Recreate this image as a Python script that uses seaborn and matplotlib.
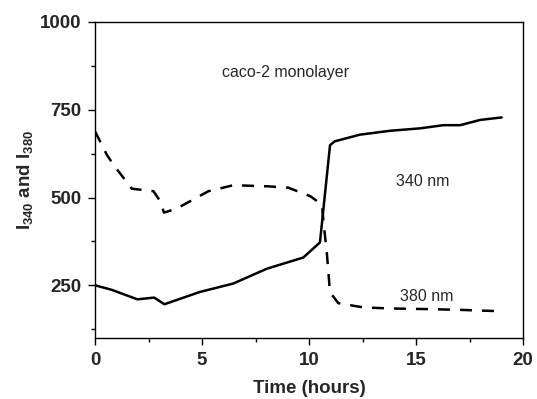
import numpy as np
import pandas as pd
import matplotlib
matplotlib.use("Agg")
import matplotlib.pyplot as plt
import seaborn as sns

# 340 nm (solid)
t340 = [0.0, 0.78, 1.98, 2.76, 3.24, 4.9, 6.46, 8.02, 9.73, 10.51, 10.98, 11.2, 12.38, 13.78, 15.19, 16.28, 17.06, 18.0, 19.0]
i340 = [250, 237, 210, 215, 196, 231, 255, 297, 329, 372, 649, 660, 679, 690, 697, 706, 706, 721, 728]

# 380 nm (dashed)
t380 = [0.0, 0.55, 0.85, 1.72, 2.73, 3.04, 3.22, 3.8, 5.3, 6.46, 8.02, 9.03, 10.05, 10.6, 10.68, 10.83, 10.98, 11.37, 12.54, 13.78, 15.65, 17.06, 19.0]
i380 = [688, 622, 594, 525, 518, 490, 457, 468, 518, 535, 532, 528, 504, 480, 428, 343, 230, 199, 187, 184, 182, 180, 176]

sns.set_style("ticks")
plt.rcParams["font.family"] = ["Liberation Sans", "DejaVu Sans"]
plt.rcParams["mathtext.fontset"] = "custom"
plt.rcParams["mathtext.rm"] = "Liberation Sans:bold"
plt.rcParams["mathtext.bf"] = "Liberation Sans:bold"
plt.rcParams["mathtext.default"] = "rm"

fig = plt.figure(figsize=(5.37, 3.99), dpi=100)
ax = fig.add_axes([0.177, 0.153, 0.797, 0.792])

df340 = pd.DataFrame({"t": t340, "v": i340})
df380 = pd.DataFrame({"t": t380, "v": i380})
sns.lineplot(data=df340, x="t", y="v", ax=ax, color="black", lw=1.8)
sns.lineplot(data=df380, x="t", y="v", ax=ax, color="black", lw=1.8, dashes=False)
ax.lines[-1].set_dashes((4.8, 4.0))

ax.set_xlim(0, 20)
ax.set_ylim(100, 1000)
ax.set_xticks([0, 5, 10, 15, 20])
ax.set_xticks([2.5, 7.5, 12.5, 17.5], minor=True)
ax.set_yticks([250, 500, 750, 1000])
ax.set_yticks([125, 375, 625, 875], minor=True)
for lab in ax.get_xticklabels() + ax.get_yticklabels():
    lab.set_fontweight("bold")
    lab.set_fontsize(13.5)
ax.tick_params(which="major", length=5, width=1, color="black", direction="out", pad=5)
ax.tick_params(which="minor", length=3, width=1, color="black", direction="out")
for s in ax.spines.values():
    s.set_linewidth(1.0)
    s.set_color("black")

ax.set_xlabel("Time (hours)", fontsize=13.5, fontweight="bold", labelpad=8)
ax.set_ylabel(r"I$_{340}$ and I$_{380}$", fontsize=13.5, fontweight="bold", labelpad=3)

ax.text(8.9, 857, "caco-2 monolayer", fontsize=11.5, ha="center", va="center")
ax.text(15.3, 546, "340 nm", fontsize=11.5, ha="center", va="center")
ax.text(15.5, 217, "380 nm", fontsize=11.5, ha="center", va="center")

fig.savefig("out.png", dpi=100)
